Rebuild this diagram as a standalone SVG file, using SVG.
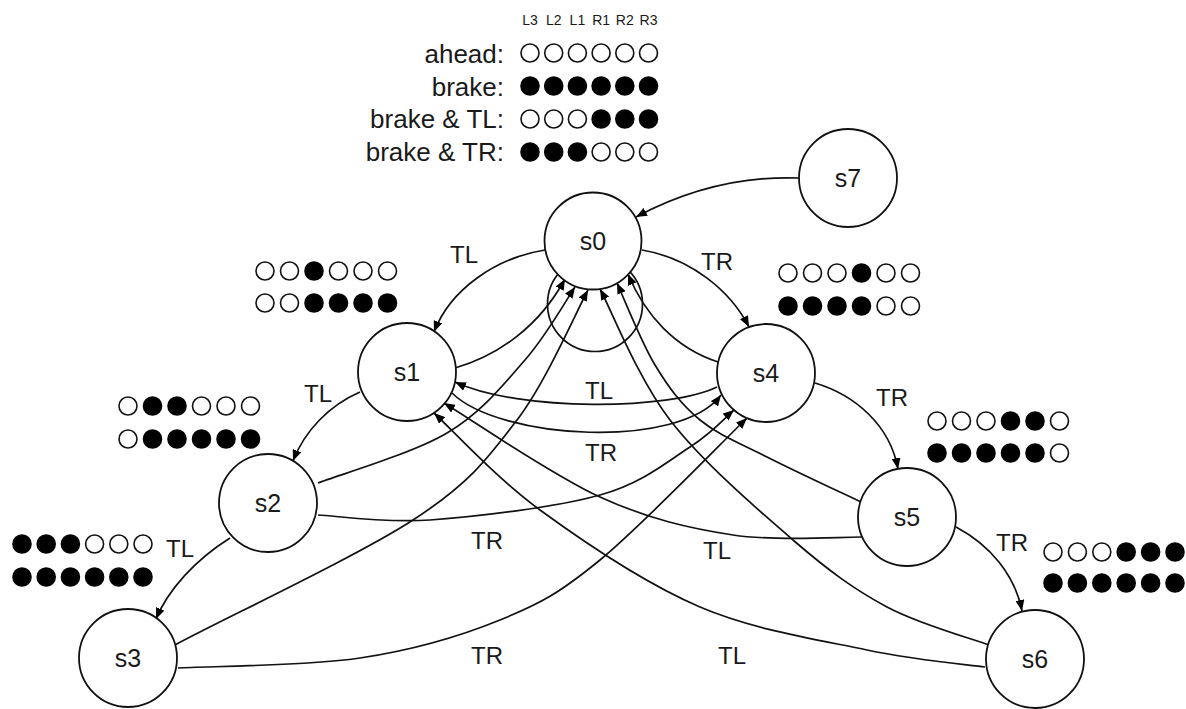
<svg xmlns="http://www.w3.org/2000/svg" width="1186" height="709" viewBox="0 0 1186 709">
<style>
.n{fill:#fff;stroke:#111;stroke-width:1.8}
.e{fill:none;stroke:#111;stroke-width:1.7}
.a{marker-end:url(#arr)}
.t{font-family:"Liberation Sans",Arial,sans-serif;fill:#1a1a1a}
.nl{font-size:25px;text-anchor:middle}
.el{font-size:24px;text-anchor:middle}
.lg{font-size:26px;text-anchor:end}
.hd{font-size:14px;text-anchor:middle}
.o{fill:#fff;stroke:#111;stroke-width:1.6}
.f{fill:#000;stroke:#000;stroke-width:1.6}
</style>
<defs>
<marker id="arr" markerWidth="12" markerHeight="9" refX="11" refY="4.5" orient="auto" markerUnits="userSpaceOnUse"><path d="M0,0 L11,4.5 L0,9 z" fill="#000"/></marker>
<circle id="o" r="9" class="o"/>
<circle id="f" r="9" class="f"/>
</defs>
<rect width="1186" height="709" fill="#fff"/>

<g id="legend">
<g class="t hd">
<text x="530" y="25">L3</text><text x="553.7" y="25">L2</text><text x="577.4" y="25">L1</text><text x="601.1" y="25">R1</text><text x="624.8" y="25">R2</text><text x="648.5" y="25">R3</text>
</g>
<g class="t lg">
<text x="504" y="63">ahead:</text>
<text x="504" y="96">brake:</text>
<text x="504" y="128">brake &amp; TL:</text>
<text x="504" y="161">brake &amp; TR:</text>
</g>
<g>
<use href="#o" x="530" y="53"/><use href="#o" x="553.7" y="53"/><use href="#o" x="577.4" y="53"/><use href="#o" x="601.1" y="53"/><use href="#o" x="624.8" y="53"/><use href="#o" x="648.5" y="53"/>
<use href="#f" x="530" y="86"/><use href="#f" x="553.7" y="86"/><use href="#f" x="577.4" y="86"/><use href="#f" x="601.1" y="86"/><use href="#f" x="624.8" y="86"/><use href="#f" x="648.5" y="86"/>
<use href="#o" x="530" y="119"/><use href="#o" x="553.7" y="119"/><use href="#o" x="577.4" y="119"/><use href="#f" x="601.1" y="119"/><use href="#f" x="624.8" y="119"/><use href="#f" x="648.5" y="119"/>
<use href="#f" x="530" y="152"/><use href="#f" x="553.7" y="152"/><use href="#f" x="577.4" y="152"/><use href="#o" x="601.1" y="152"/><use href="#o" x="624.8" y="152"/><use href="#o" x="648.5" y="152"/>
</g>
</g>

<g id="connectors">
<circle class="e" cx="595" cy="304" r="47.5"/>
<path class="e a" d="M799 178 Q715 175 636 217"/>
<path class="e a" d="M545 250 C495 258 450 290 434 332"/>
<path class="e a" d="M642 250 C690 258 730 290 749 327"/>
<path class="e a" d="M360 392 C330 405 305 430 293 461"/>
<path class="e a" d="M815 383 C855 395 890 425 898 469"/>
<path class="e a" d="M230 538 C195 560 168 590 156 619"/>
<path class="e a" d="M956 527 C990 545 1015 575 1022 611"/>
<path class="e a" d="M455 368 C500 355 540 325 565 279"/>
<path class="e a" d="M718 362 C675 348 645 315 628 274"/>
<path class="e a" d="M318 483 C339.5 474.7 412.5 453.5 447 433 C481.5 412.5 503.7 384.3 525 360 C546.3 335.7 566.7 299.2 575 287"/>
<path class="e a" d="M175 645 C217 622 356 557 413 520 C470 483 487.8 458.3 517 420 C546.2 381.7 576.2 311.7 588 290"/>
<path class="e a" d="M989 645 C972 638.7 919.7 624.5 887 607 C854.3 589.5 829.2 571.2 793 540 C756.8 508.8 702.2 461.8 670 420 C637.8 378.2 611.7 310.8 600 289"/>
<path class="e a" d="M861 502 C845.3 494.5 793.8 470.7 767 457 C740.2 443.3 718.7 435.3 700 420 C681.3 404.7 668.8 387.8 655 365 C641.2 342.2 623.3 296.7 617 283"/>
<path class="e a" d="M452 393 C500 440 680 450 721 395"/>
<path class="e a" d="M717 387 C670 410 520 412 455 382"/>
<path class="e a" d="M862 537 C840.5 536.7 776.7 541.7 733 535 C689.3 528.3 648.2 519 600 497 C551.8 475 470 418.7 444 403"/>
<path class="e a" d="M985 667 C963.7 664.2 914.2 660 867 650 C819.8 640 754.5 630.3 700 607 C645.5 583.7 584.3 542.3 540 510 C495.7 477.7 451.7 429.2 434 413"/>
<path class="e a" d="M318 515 C336.7 515.8 383 523.3 430 520 C477 516.7 556.7 507.2 600 495 C643.3 482.8 667.7 461.2 690 447 C712.3 432.8 726.7 416.2 734 410"/>
<path class="e a" d="M178 668 C208.3 666.3 306.3 666 360 658 C413.7 650 460 636.3 500 620 C540 603.7 558.8 593.7 600 560 C641.2 526.3 722.5 441.7 747 418"/>
<g class="t el">
<text x="464" y="263">TL</text>
<text x="717" y="270">TR</text>
<text x="318" y="402">TL</text>
<text x="892" y="406">TR</text>
<text x="180" y="557">TL</text>
<text x="1012" y="551">TR</text>
<text x="599" y="399">TL</text>
<text x="601" y="461">TR</text>
<text x="487" y="549">TR</text>
<text x="717" y="559">TL</text>
<text x="487" y="664">TR</text>
<text x="732" y="664">TL</text>
</g>
</g>

<g id="s0"><circle class="n" cx="593" cy="241" r="48.5"/><text class="t nl" x="593" y="250">s0</text></g>
<g id="s7"><circle class="n" cx="848" cy="178" r="49"/><text class="t nl" x="848" y="187">s7</text></g>
<g id="s1"><circle class="n" cx="407" cy="372" r="49"/><text class="t nl" x="407" y="381">s1</text>
<use href="#o" x="265" y="271"/><use href="#o" x="289.5" y="271"/><use href="#f" x="314" y="271"/><use href="#o" x="338.5" y="271"/><use href="#o" x="363" y="271"/><use href="#o" x="387.5" y="271"/>
<use href="#o" x="265" y="303"/><use href="#o" x="289.5" y="303"/><use href="#f" x="314" y="303"/><use href="#f" x="338.5" y="303"/><use href="#f" x="363" y="303"/><use href="#f" x="387.5" y="303"/>
</g>
<g id="s4"><circle class="n" cx="766" cy="373" r="49"/><text class="t nl" x="766" y="382">s4</text>
<use href="#o" x="788" y="273"/><use href="#o" x="812.5" y="273"/><use href="#o" x="837" y="273"/><use href="#f" x="861.5" y="273"/><use href="#o" x="886" y="273"/><use href="#o" x="910.5" y="273"/>
<use href="#f" x="788" y="306"/><use href="#f" x="812.5" y="306"/><use href="#f" x="837" y="306"/><use href="#f" x="861.5" y="306"/><use href="#o" x="886" y="306"/><use href="#o" x="910.5" y="306"/>
</g>
<g id="s2"><circle class="n" cx="268" cy="503" r="49"/><text class="t nl" x="268" y="512">s2</text>
<use href="#o" x="128" y="406"/><use href="#f" x="152.5" y="406"/><use href="#f" x="177" y="406"/><use href="#o" x="201.5" y="406"/><use href="#o" x="226" y="406"/><use href="#o" x="250.5" y="406"/>
<use href="#o" x="128" y="439"/><use href="#f" x="152.5" y="439"/><use href="#f" x="177" y="439"/><use href="#f" x="201.5" y="439"/><use href="#f" x="226" y="439"/><use href="#f" x="250.5" y="439"/>
</g>
<g id="s5"><circle class="n" cx="907" cy="517" r="49"/><text class="t nl" x="907" y="526">s5</text>
<use href="#o" x="937" y="421"/><use href="#o" x="961.5" y="421"/><use href="#o" x="986" y="421"/><use href="#f" x="1010.5" y="421"/><use href="#f" x="1035" y="421"/><use href="#o" x="1059.5" y="421"/>
<use href="#f" x="937" y="453"/><use href="#f" x="961.5" y="453"/><use href="#f" x="986" y="453"/><use href="#f" x="1010.5" y="453"/><use href="#f" x="1035" y="453"/><use href="#o" x="1059.5" y="453"/>
</g>
<g id="s3"><circle class="n" cx="128" cy="658" r="49"/><text class="t nl" x="128" y="667">s3</text>
<use href="#f" x="22" y="544"/><use href="#f" x="46.2" y="544"/><use href="#f" x="70.4" y="544"/><use href="#o" x="94.6" y="544"/><use href="#o" x="118.8" y="544"/><use href="#o" x="143" y="544"/>
<use href="#f" x="22" y="577"/><use href="#f" x="46.2" y="577"/><use href="#f" x="70.4" y="577"/><use href="#f" x="94.6" y="577"/><use href="#f" x="118.8" y="577"/><use href="#f" x="143" y="577"/>
</g>
<g id="s6"><circle class="n" cx="1035" cy="659" r="49"/><text class="t nl" x="1035" y="668">s6</text>
<use href="#o" x="1053" y="552"/><use href="#o" x="1077.4" y="552"/><use href="#o" x="1101.8" y="552"/><use href="#f" x="1126.2" y="552"/><use href="#f" x="1150.6" y="552"/><use href="#f" x="1175" y="552"/>
<use href="#f" x="1053" y="583"/><use href="#f" x="1077.4" y="583"/><use href="#f" x="1101.8" y="583"/><use href="#f" x="1126.2" y="583"/><use href="#f" x="1150.6" y="583"/><use href="#f" x="1175" y="583"/>
</g>
</svg>
